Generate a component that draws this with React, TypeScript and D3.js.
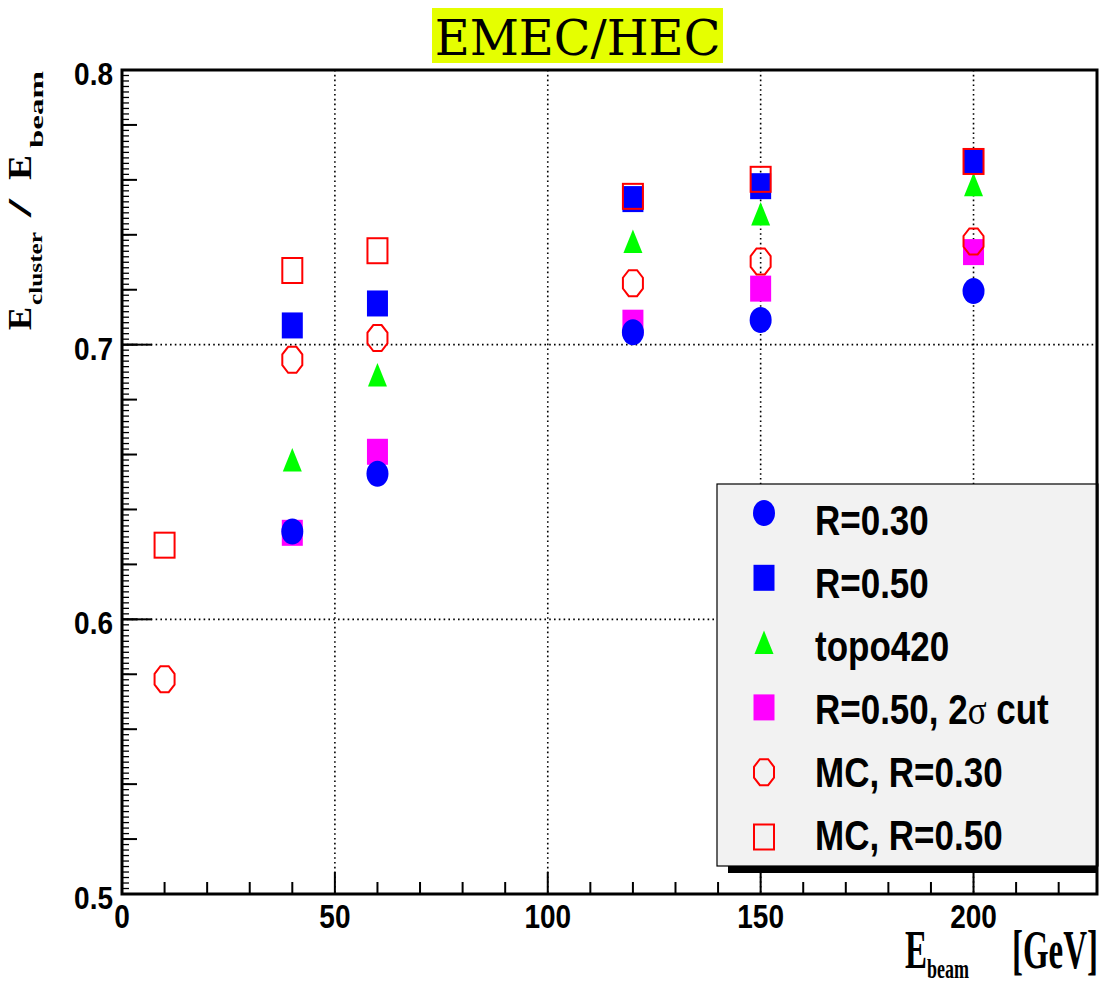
import React from "react";
import * as d3 from "d3";

// Beam energies (GeV)
const energies = [40, 60, 120, 150, 200];
const mcEnergies = [10, 40, 60, 120, 150, 200];

// E_cluster / E_beam for each clustering
const r030 = [0.632, 0.653, 0.7045, 0.709, 0.7195];
const r050 = [0.707, 0.715, 0.753, 0.7577, 0.7668];
const topo420 = [0.658, 0.689, 0.7376, 0.7476, 0.7582];
const r050cut = [0.6315, 0.661, 0.708, 0.7204, 0.7337];
const mcR030 = [0.5782, 0.6945, 0.7024, 0.7224, 0.7303, 0.7376];
const mcR050 = [0.627, 0.727, 0.7342, 0.754, 0.7602, 0.7667];

const xTickLabels = [0, 50, 100, 150, 200];
const yTickLabels = [0.5, 0.6, 0.7, 0.8];

const W = 1100;
const H = 984;
const PL = 122, PR = 1097, PT = 70, PB = 894;

const x = d3.scaleLinear().domain([0, 229]).range([PL, PR]);
const y = d3.scaleLinear().domain([0.5, 0.8]).range([PB, PT]);

const SANS = "'Liberation Sans', Arial, Helvetica, sans-serif";
const SERIF = "'Liberation Serif', 'Times New Roman', serif";

type Kind = "dot" | "square" | "triangle" | "openCircle" | "openSquare";

function octagon(w: number, h: number) {
  const pts: [number, number][] = d3.range(8).map((k) => {
    const a = Math.PI / 8 + (k * Math.PI) / 4;
    return [(Math.cos(a) * w) / 2 / Math.cos(Math.PI / 8), (Math.sin(a) * h) / 2 / Math.cos(Math.PI / 8)];
  });
  return d3.line()(pts.concat([pts[0]])) + "Z";
}

function Marker({ kind, color, cx, cy }: { kind: Kind; color: string; cx: number; cy: number }) {
  switch (kind) {
    case "dot":
      return <ellipse cx={cx} cy={cy} rx={11} ry={13} fill={color} />;
    case "square":
      return <rect x={cx - 10.5} y={cy - 13} width={21} height={26} fill={color} />;
    case "triangle":
      return (
        <path
          d={`M${cx},${cy - 12}L${cx + 9.5},${cy + 11.5}L${cx - 9.5},${cy + 11.5}Z`}
          fill={color}
        />
      );
    case "openCircle":
      return (
        <path
          d={octagon(20, 26)}
          transform={`translate(${cx},${cy})`}
          fill="none"
          stroke={color}
          strokeWidth={2}
        />
      );
    case "openSquare":
      return (
        <rect x={cx - 10} y={cy - 12.5} width={20} height={25} fill="none" stroke={color} strokeWidth={2} />
      );
  }
}

interface Series {
  label: React.ReactNode;
  kind: Kind;
  color: string;
  xs: number[];
  ys: number[];
}

const legendOrder: Series[] = [
  { label: "R=0.30", kind: "dot", color: "#0000ff", xs: energies, ys: r030 },
  { label: "R=0.50", kind: "square", color: "#0000ff", xs: energies, ys: r050 },
  { label: "topo420", kind: "triangle", color: "#00ff00", xs: energies, ys: topo420 },
  {
    label: (
      <>
        R=0.50, 2<tspan fontFamily={SERIF} fontWeight="normal">σ</tspan> cut
      </>
    ),
    kind: "square",
    color: "#ff00ff",
    xs: energies,
    ys: r050cut,
  },
  { label: "MC, R=0.30", kind: "openCircle", color: "#ff0000", xs: mcEnergies, ys: mcR030 },
  { label: "MC, R=0.50", kind: "openSquare", color: "#ff0000", xs: mcEnergies, ys: mcR050 },
];

// Drawing order in the frame (later series on top)
const drawOrder = [3, 0, 1, 2, 4, 5];

export default function App() {
  const xMinor = d3.range(0, 229.01, 10);
  const ySecondary = d3.range(0.5, 0.8001, 0.02);
  const yTertiary = d3.range(0.5, 0.8001, 0.002);

  const legX = 717, legY = 484, legW = 381, legH = 382;

  return (
    <svg
      width={W}
      height={H}
      style={{ position: "absolute", left: 0, top: 0, background: "#fff" }}
    >
      <rect x={0} y={0} width={W} height={H} fill="#fff" />

      {/* Title */}
      <rect x={432} y={8} width={291} height={55} fill="#e5ff00" />
      <text x={577.5} y={55} textAnchor="middle" fontFamily="'DejaVu Serif', serif" fontSize={48} fill="#000">
        EMEC/HEC
      </text>

      {/* Grid */}
      <g stroke="#000" strokeWidth={1.6} strokeDasharray="1.6,3.2">
        {xTickLabels.filter((v) => v > 0).map((v) => (
          <line key={"gx" + v} x1={x(v)} x2={x(v)} y1={PT} y2={PB} />
        ))}
        {yTickLabels.filter((v) => v > 0.5 && v < 0.8).map((v) => (
          <line key={"gy" + v} x1={PL} x2={PR} y1={y(v)} y2={y(v)} />
        ))}
      </g>

      {/* Ticks */}
      <g stroke="#000" strokeWidth={2}>
        {xMinor.map((v) => {
          const major = Math.abs(v % 50) < 1e-6;
          return <line key={"xt" + v} x1={x(v)} x2={x(v)} y1={PB} y2={PB - (major ? 22 : 12)} />;
        })}
        {yTertiary.map((v, i) => (
          <line key={"yt3" + i} x1={PL} x2={PL + 7} y1={y(v)} y2={y(v)} strokeWidth={1.3} />
        ))}
        {ySecondary.map((v, i) => (
          <line key={"yt2" + i} x1={PL} x2={PL + 15} y1={y(v)} y2={y(v)} />
        ))}
        {yTickLabels.map((v) => (
          <line key={"yt1" + v} x1={PL} x2={PL + 30} y1={y(v)} y2={y(v)} />
        ))}
      </g>

      {/* Data */}
      {drawOrder.map((si) => {
        const s = legendOrder[si];
        return (
          <g key={"s" + si}>
            {s.xs.map((xv, i) => (
              <Marker key={i} kind={s.kind} color={s.color} cx={x(xv)} cy={y(s.ys[i])} />
            ))}
          </g>
        );
      })}

      {/* Legend */}
      <rect x={legX + 11} y={legY + legH} width={legW - 11} height={7} fill="#000" />
      <rect x={legX} y={legY} width={legW} height={legH} fill="#f2f2f2" stroke="#000" strokeWidth={1.2} />
      {legendOrder.map((s, i) => (
        <g key={"l" + i}>
          <Marker kind={s.kind} color={s.color} cx={legX + 47} cy={legY + 29 + i * 64.8} />
          <text
            transform={`translate(${legX + 98},${legY + 51 + i * 63}) scale(1,1.2)`}
            fontFamily={SANS}
            fontWeight="bold"
            fontSize={35}
            fill="#000"
          >
            {s.label}
          </text>
        </g>
      ))}

      {/* Frame */}
      <rect x={PL} y={PT} width={PR - PL} height={PB - PT} fill="none" stroke="#000" strokeWidth={3} />

      {/* Tick labels */}
      {xTickLabels.map((v) => (
        <text
          key={"xl" + v}
          transform={`translate(${x(v)},928) scale(1,1.17)`}
          textAnchor="middle"
          fontFamily={SANS}
          fontWeight="bold"
          fontSize={28}
          fill="#000"
        >
          {v}
        </text>
      ))}
      {yTickLabels.map((v) => (
        <text
          key={"yl" + v}
          transform={`translate(113,${y(v) + 15}) scale(1,1.15)`}
          textAnchor="end"
          fontFamily={SANS}
          fontWeight="bold"
          fontSize={28}
          fill="#000"
        >
          {v.toFixed(1)}
        </text>
      ))}

      {/* X axis title */}
      <text
        transform="translate(905,968) scale(1,1.67)"
        fontFamily={SERIF}
        fontWeight="bold"
        fontSize={33}
        fill="#000"
      >
        E
      </text>
      <text
        transform="translate(927,978) scale(1,1.35)"
        fontFamily={SERIF}
        fontWeight="bold"
        fontSize={20}
        textLength={42}
        lengthAdjust="spacingAndGlyphs"
        fill="#000"
      >
        beam
      </text>
      <text
        transform="translate(1098,968) scale(1,1.67)"
        textAnchor="end"
        fontFamily={SERIF}
        fontWeight="bold"
        fontSize={33}
        fill="#000"
      >
        [GeV]
      </text>

      {/* Y axis title */}
      <g transform="translate(31,330) rotate(-90)" fontFamily={SERIF} fontWeight="bold" fill="#000">
        <text x={0} y={0} fontSize={33} textLength={23} lengthAdjust="spacingAndGlyphs">E</text>
        <text x={25} y={11} fontSize={19} textLength={73} lengthAdjust="spacingAndGlyphs">cluster</text>
        <text x={113} y={0} fontSize={33} textLength={18} lengthAdjust="spacingAndGlyphs">/</text>
        <text x={150} y={0} fontSize={33} textLength={25} lengthAdjust="spacingAndGlyphs">E</text>
        <text x={182} y={12} fontSize={19} textLength={77} lengthAdjust="spacingAndGlyphs">beam</text>
      </g>
    </svg>
  );
}
